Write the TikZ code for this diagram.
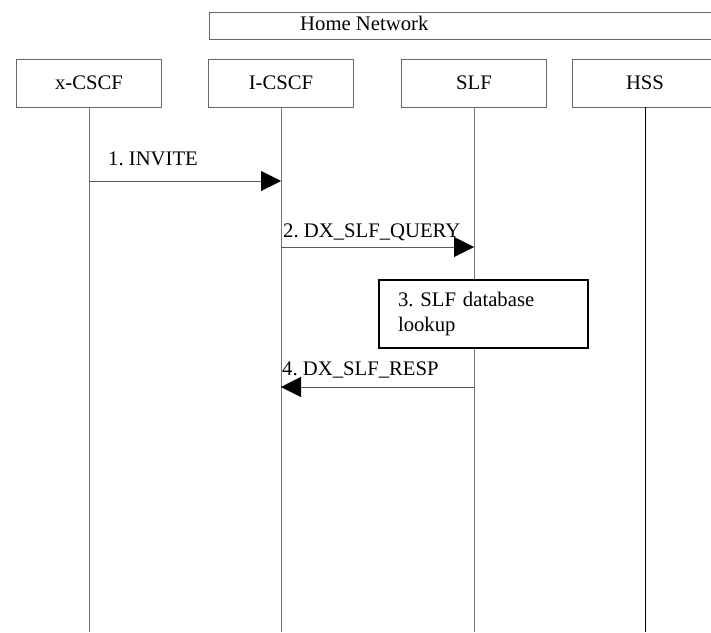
\documentclass[tikz,border=0pt]{standalone}
\usepackage{fontspec}
\setmainfont{Liberation Serif}
\frenchspacing
\usetikzlibrary{arrows.meta}
\begin{document}
\begin{tikzpicture}[x=1pt, y=-1pt,
		every node/.style={font=\fontsize{20.7}{25}\selectfont},
		entity/.style={draw=black!60, minimum width=145pt, minimum height=48pt, inner sep=0pt},
		life/.style={draw=black!55},
		msg/.style={draw=black!65, -{Triangle[length=20pt, width=20pt, color=black]}},
		msglabel/.style={anchor=base west, inner sep=0pt}]

				\useasboundingbox (0,0) rectangle (711,632);
				\clip (0,0) rectangle (711,632);

				\node (home) [draw=black!60, anchor=north west, minimum width=520pt, minimum height=27pt] at (209,12) {};
				\node (homelabel) [msglabel] at (300,30) {Home Network};

				\node (xcscf) [entity] at (89,83) {x-CSCF};
				\node (icscf) [entity] at (281,83) {I-CSCF};
				\node (slf) [entity] at (474,83) {SLF};
				\node (hss) [entity] at (645,83) {HSS};

				\coordinate (xcscf-end) at (89,632);
				\coordinate (icscf-end) at (281,632);
				\coordinate (slf-end) at (474,632);
				\coordinate (hss-end) at (645,632);

				\draw [life] (xcscf) -- (xcscf-end);
				\draw [life] (icscf) -- (icscf-end);
				\draw [life] (slf) -- (slf-end);
				\draw [life, draw=black] (hss) -- (hss-end);

				\draw [msg] (xcscf-end |- 0,181) -- (icscf-end |- 0,181);
				\node (m1) [msglabel] at (108,165) {1. INVITE};

				\draw [msg] (icscf-end |- 0,247) -- (slf-end |- 0,247);
				\node (m2) [msglabel] at (283,237) {2. DX\_SLF\_QUERY};

				\node (m3) [draw, line width=1.5pt, fill=white, minimum width=209pt, minimum height=68pt, text width=171pt, align=left, inner xsep=19pt] at (483.5,314) {3. SLF database\\lookup};

				\draw [msg] (slf-end |- 0,387) -- (icscf-end |- 0,387);
				\node (m4) [msglabel] at (282,375) {4. DX\_SLF\_RESP};
			\end{tikzpicture}
\end{document}
